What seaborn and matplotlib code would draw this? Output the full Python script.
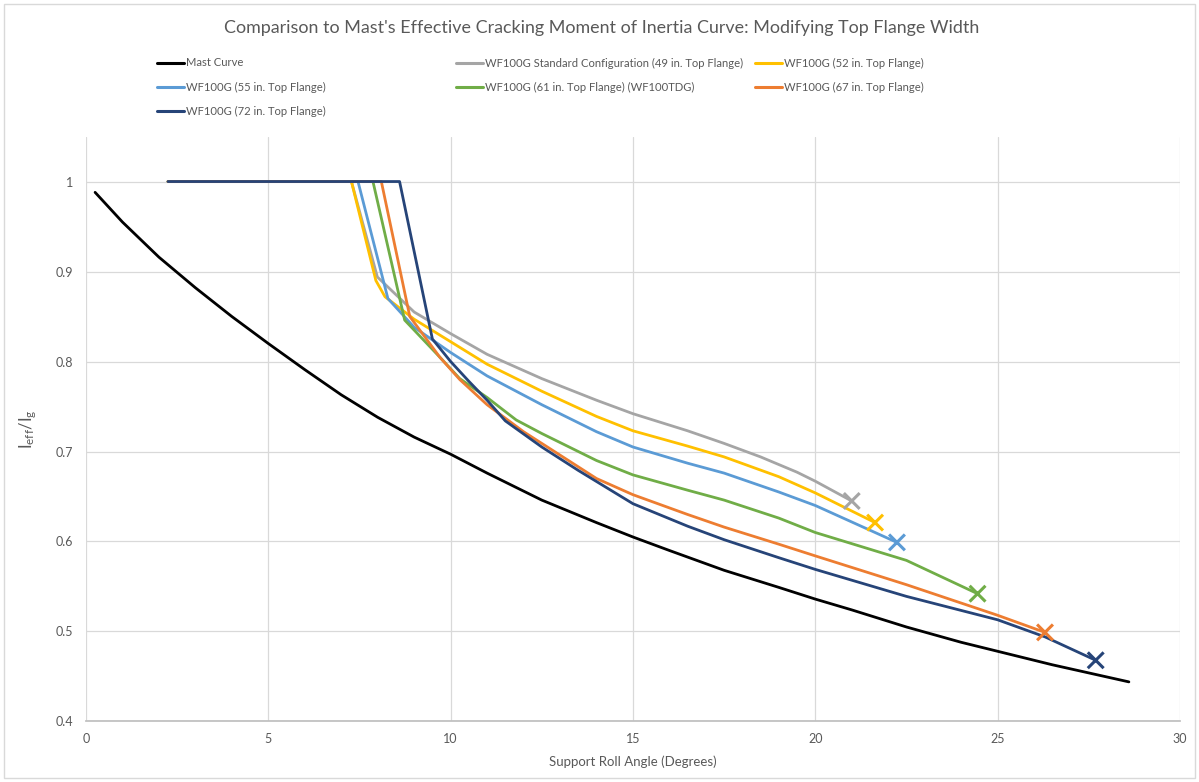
import matplotlib
matplotlib.use("Agg")
import matplotlib.pyplot as plt
from matplotlib.lines import Line2D
from matplotlib.patches import Rectangle
import seaborn as sns
import pandas as pd

# --- DATA ---
mast_x = [0.25, 1.0, 2.0, 3.0, 4.0, 5.0, 6.0, 7.0, 8.0, 9.0, 10.0, 11.0, 12.5, 14.0, 15.0,
          16.0, 17.5, 19.0, 20.0, 21.0, 22.5, 24.0, 25.0, 26.5, 28.6]
mast_y = [0.988, 0.955, 0.916, 0.882, 0.850, 0.820, 0.791, 0.763, 0.738, 0.716, 0.697, 0.676,
          0.646, 0.621, 0.605, 0.590, 0.568, 0.549, 0.536, 0.524, 0.505, 0.488, 0.478, 0.463, 0.444]

gray_x = [2.25, 7.28, 7.99, 9.0, 10.0, 11.0, 12.5, 14.0, 15.0, 16.5, 17.5, 18.5, 19.5, 20.0, 21.0]
gray_y = [1.0, 1.0, 0.894, 0.855, 0.831, 0.808, 0.781, 0.757, 0.742, 0.723, 0.709, 0.694, 0.677, 0.667, 0.645]

yellow_x = [2.25, 7.28, 7.95, 8.2, 9.0, 10.0, 11.0, 12.5, 14.0, 15.0, 16.5, 17.5, 19.0, 20.0, 21.64]
yellow_y = [1.0, 1.0, 0.890, 0.872, 0.847, 0.822, 0.797, 0.767, 0.739, 0.723, 0.706, 0.694, 0.672, 0.654, 0.621]

blue_x = [2.25, 7.46, 8.28, 9.0, 10.0, 11.0, 12.5, 14.0, 15.0, 16.5, 17.5, 19.0, 20.0, 22.24]
blue_y = [1.0, 1.0, 0.870, 0.838, 0.810, 0.784, 0.752, 0.722, 0.705, 0.687, 0.676, 0.655, 0.640, 0.599]

green_x = [2.25, 7.87, 8.74, 9.7, 10.25, 11.0, 11.8, 12.5, 14.0, 15.0, 16.5, 17.5, 19.0, 20.0, 22.5, 24.45]
green_y = [1.0, 1.0, 0.846, 0.805, 0.781, 0.760, 0.735, 0.720, 0.690, 0.674, 0.657, 0.646, 0.626, 0.610, 0.579, 0.542]

orange_x = [2.25, 8.1, 8.88, 9.7, 10.25, 11.0, 12.0, 12.5, 14.0, 15.0, 16.5, 17.5, 19.0, 20.0, 22.5, 25.0, 26.3]
orange_y = [1.0, 1.0, 0.850, 0.805, 0.780, 0.752, 0.722, 0.709, 0.670, 0.652, 0.630, 0.616, 0.597, 0.584, 0.552, 0.518, 0.499]

navy_x = [2.25, 8.6, 9.5, 10.0, 10.5, 11.0, 11.5, 12.5, 13.5, 15.0, 16.5, 17.5, 19.0, 20.0, 22.5, 25.0, 26.3, 27.69]
navy_y = [1.0, 1.0, 0.825, 0.800, 0.778, 0.757, 0.734, 0.705, 0.679, 0.642, 0.617, 0.602, 0.582, 0.569, 0.539, 0.513, 0.494, 0.468]

labels = ["Mast Curve",
          "WF100G Standard Configuration (49 in. Top Flange)",
          "WF100G (52 in. Top Flange)",
          "WF100G (55 in. Top Flange)",
          "WF100G (61 in. Top Flange) (WF100TDG)",
          "WF100G (67 in. Top Flange)",
          "WF100G (72 in. Top Flange)"]
colors = ["#000000", "#A5A5A5", "#FFC000", "#5B9BD5", "#70AD47", "#ED7D31", "#264478"]
xs = [mast_x, gray_x, yellow_x, blue_x, green_x, orange_x, navy_x]
ys = [mast_y, gray_y, yellow_y, blue_y, green_y, orange_y, navy_y]

# --- CONFIG ---
sns.set_theme(style="white")
plt.rcParams['font.family'] = ['Lato', 'DejaVu Sans']
plt.rcParams['mathtext.default'] = 'regular'
TXT = "#595959"

df = pd.concat([pd.DataFrame({"series": l, "angle": x, "ratio": y})
                for l, x, y in zip(labels, xs, ys)], ignore_index=True)
ends = pd.DataFrame({"series": labels[1:],
                     "angle": [x[-1] for x in xs[1:]],
                     "ratio": [y[-1] for y in ys[1:]]})
pal = dict(zip(labels, colors))

fig = plt.figure(figsize=(11.99, 7.82), dpi=100)
ax = fig.add_axes([0.0717, 0.0774, 0.9124, 0.748])

sns.lineplot(data=df, x="angle", y="ratio", hue="series", hue_order=labels, palette=pal,
             estimator=None, sort=False, lw=2, legend=False, ax=ax)
sns.scatterplot(data=ends, x="angle", y="ratio", hue="series", hue_order=labels[1:],
                palette=pal, marker="x", s=130, linewidth=2.2, legend=False, ax=ax, zorder=4)

ax.set_xlim(0, 30)
ax.set_ylim(0.4, 1.05)
ax.set_xticks(range(0, 31, 5))
ax.set_yticks([0.4, 0.5, 0.6, 0.7, 0.8, 0.9, 1.0])
ax.set_yticklabels(["0.4", "0.5", "0.6", "0.7", "0.8", "0.9", "1"])
ax.grid(True, color="#D9D9D9", lw=0.9)
ax.set_axisbelow(True)
for s in ["top", "right", "left"]:
    ax.spines[s].set_visible(False)
ax.spines["bottom"].set_color("#BFBFBF")
ax.tick_params(axis="both", length=0, labelsize=9, labelcolor=TXT)
ax.tick_params(axis="x", pad=8)
ax.tick_params(axis="y", pad=9)
ax.set_xlabel("Support Roll Angle (Degrees)", fontsize=9.5, color=TXT, labelpad=8)
ax.set_ylabel(r"I$_{eff}$/I$_{g}$", fontsize=12, color=TXT, labelpad=12)

fig.text(0.502, 1 - 28 / 782, "Comparison to Mast's Effective Cracking Moment of Inertia Curve: "
         "Modifying Top Flange Width", ha="center", va="center", fontsize=12.9, color=TXT)

# legend laid out like Excel: fixed column width, row-wise order
col_x = [157, 456, 755]
row_y = [63, 87, 111]
for i, (l, c) in enumerate(zip(labels, colors)):
    r, k = divmod(i, 3)
    h = Line2D([], [], color=c, lw=2.2)
    fig.legend(handles=[h], labels=[l], loc="center left",
               bbox_to_anchor=(col_x[k] / 1199, 1 - row_y[r] / 782),
               frameon=False, fontsize=8.1, borderpad=0, borderaxespad=0,
               handlelength=2.4, handletextpad=0.2, labelcolor=TXT)

fig.patches.append(Rectangle((0.003, 0.005), 0.994, 0.99, transform=fig.transFigure,
                             fill=False, edgecolor="#D9D9D9", lw=1))

fig.savefig("out.png", dpi=100)
